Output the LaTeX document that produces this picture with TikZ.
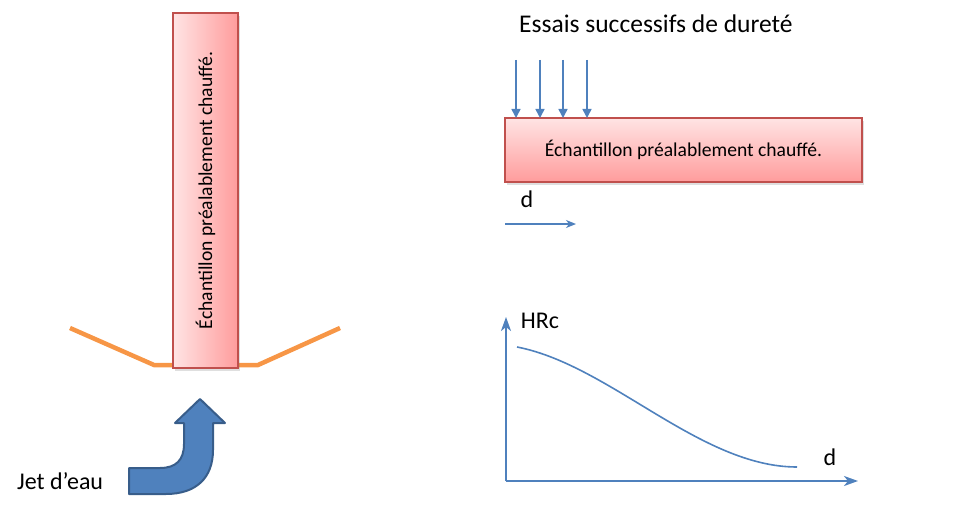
\documentclass[tikz,border=0pt]{standalone}
\usepackage{fontspec}
\setmainfont{Carlito}
\usetikzlibrary{shadows,arrows.meta}
\definecolor{boxborder}{HTML}{C0504D}
\definecolor{pinklight}{HTML}{FFE4E4}
\definecolor{pinkdark}{HTML}{FF9C9C}
\definecolor{blueline}{HTML}{4F81BD}
\definecolor{bluedark}{HTML}{385D8A}
\definecolor{orangeline}{HTML}{F79646}
\tikzset{
  sample/.style={draw=boxborder, line width=1.2pt, inner sep=0pt,
    drop shadow={shadow xshift=2pt, shadow yshift=-3pt, opacity=0.25},
    font=\fontsize{19.6}{23}\selectfont},
  lbl/.style={inner sep=0pt, font=\fontsize{24}{28}\selectfont},
  bluearrow/.style={blueline, line width=1.6pt, -{Triangle[length=9pt,width=9pt]}},
  axis/.style={blueline, line width=2pt, -{Stealth[length=14pt,width=10pt,inset=4pt]}}
}
\begin{document}
\begin{tikzpicture}[x=1pt,y=-1pt]
\useasboundingbox (0,0) rectangle (963,505);
% orange support
\draw[orangeline, line width=4.5pt, line join=miter] (70,328) -- (154,365) -- (258,365) -- (340,328);
% left sample
\node[sample, left color=pinklight, right color=pinkdark, minimum width=65pt, minimum height=355pt] (lbox) at (205.5,190.5) {};
\node[rotate=90, inner sep=0pt, font=\fontsize{19.6}{23}\selectfont] (ltext) at (lbox.center) {Échantillon préalablement chauffé.};
% water jet bent arrow
\filldraw[fill=blueline, draw=bluedark, line width=2pt, line join=round]
  (129,468) -- (160,468) .. controls (176,468) and (184,460) .. (184,444)
  -- (184,423) -- (175,423) -- (200,399) -- (225,423) -- (213,423) -- (213,450)
  .. controls (213,478) and (196,494) .. (166,494) -- (129,494) -- cycle;
\node[lbl, anchor=west] (jet) at (17,481) {Jet d’eau};
% right sample
\node[sample, top color=pinklight, bottom color=pinkdark, minimum width=357pt, minimum height=64pt] (rbox) at (683.5,150) {Échantillon préalablement chauffé.};
\node[lbl, anchor=west, font=\fontsize{25.5}{30}\selectfont] (essais) at (519,24) {Essais successifs de dureté};
\foreach \x [count=\i] in {516,540,563,587} {
  \coordinate (t\i) at (\x,60);
  \coordinate (b\i) at (\x,118);
  \draw[bluearrow] (t\i) -- (b\i);
}
\node[lbl] (d1) at (527,199) {d};
\coordinate (da) at (505,224);
\coordinate (db) at (576,224);
\draw[blueline, line width=1.6pt, -{Stealth[length=10pt,width=8pt,inset=3pt]}] (da) -- (db);
% graph
\coordinate (o) at (506,481);
\coordinate (ytop) at (506,317);
\coordinate (xend) at (858,481);
\draw[axis] (o) -- (ytop);
\draw[axis] (o) -- (xend);
\node[lbl] (hrc) at (540,321) {HRc};
\node[lbl] (d2) at (830,457) {d};
\coordinate (c0) at (517,347);
\coordinate (c1) at (797,467);
\draw[blueline, line width=1.6pt] (c0) .. controls (610,365) and (700,467) .. (c1);
\end{tikzpicture}
\end{document}
